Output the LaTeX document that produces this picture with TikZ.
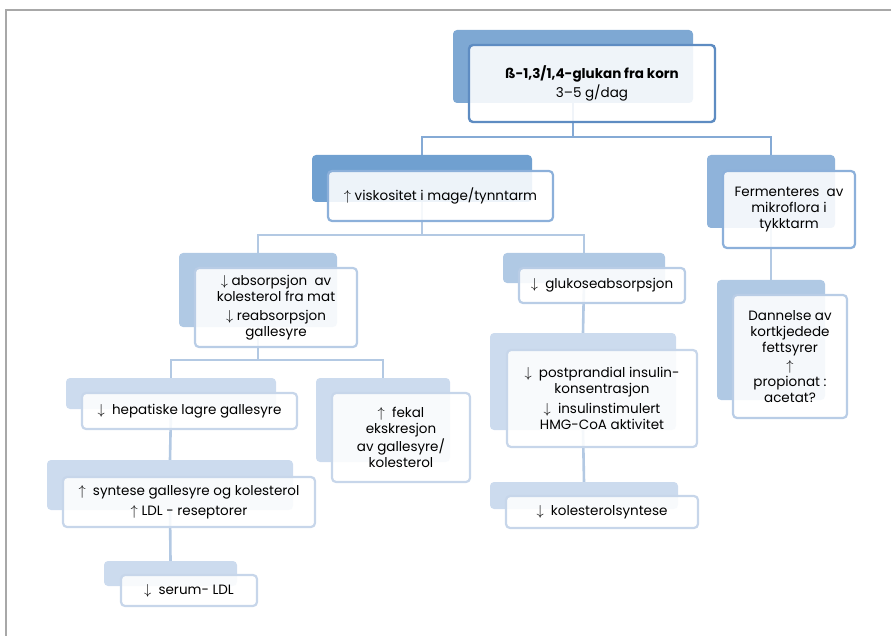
\documentclass[tikz,border=0pt]{standalone}
\usepackage{fontspec}
\setmainfont{Poppins}
\usepackage{tikz}
\usetikzlibrary{positioning}

\definecolor{frameGray}{HTML}{A8A8A8}
\definecolor{topFill}{HTML}{7EA8D3}
\definecolor{topLine}{HTML}{5E8CC2}
\definecolor{midFill}{HTML}{70A0D0}
\definecolor{midFillB}{HTML}{8FB3DA}
\definecolor{midLine}{HTML}{8CB0DA}
\definecolor{lowFill}{HTML}{B0C9E4}
\definecolor{lowLine}{HTML}{B9CDE6}
\definecolor{paleFill}{HTML}{CCDBEE}
\definecolor{paleLine}{HTML}{C7D6EA}
\definecolor{linkTop}{HTML}{85AAD5}
\definecolor{linkLow}{HTML}{B3C9E3}

\newcommand{\upar}{$\uparrow$}
\newcommand{\dnar}{$\downarrow$}

\pgfdeclarelayer{background}
\pgfsetlayers{background,main}

\begin{document}
\begin{tikzpicture}[
    x=1pt, y=-1pt,
    tile/.style={rounded corners=4pt, inner sep=0pt},
    box/.style={draw, rounded corners=4pt, line width=2.2pt, fill=white, fill opacity=0.88, text opacity=1,
        align=center, inner sep=0pt, font=\fontsize{13.5}{16}\selectfont},
    topbox/.style={box, draw=topLine, line width=2.4pt},
    midbox/.style={box, draw=midLine},
    lowbox/.style={box, draw=lowLine},
    palebox/.style={box, draw=paleLine},
    link/.style={line width=2.6pt, draw=linkLow},
    toplink/.style={link, draw=linkTop}
]
    \useasboundingbox (0,0) rectangle (891,636);
    \draw[frameGray, line width=1.2pt] (6,636) -- (6,10) -- (891,10);

    % level 1
    \node[tile, fill=topFill, minimum width=240, minimum height=73] (grainS) at (573,66.5) {};
    \node[topbox, minimum width=246, minimum height=77] (grain) at (592,83.5)
        {{\bfseries ß-1,3/1,4-glukan fra korn}\\[2pt]3–5 g/dag};

    % level 2
    \node[tile, fill=midFill, minimum width=220, minimum height=47] (viscS) at (422,178.5) {};
    \node[midbox, minimum width=225, minimum height=50] (visc) at (440.5,196)
        {\upar\ viskositet i mage/tynntarm};
    \node[tile, fill=midFillB, minimum width=128, minimum height=73] (fermS) at (771,191.5) {};
    \node[midbox, minimum width=132, minimum height=77] (ferm) at (789,209.5)
        {Fermenteres\ \ av\\mikroflora i\\tykktarm};

    % level 3
    \node[tile, fill=lowFill, minimum width=158, minimum height=74] (absS) at (258,290) {};
    \node[lowbox, minimum width=162, minimum height=79] (abs) at (276,307.5)
        {\dnar\ absorpsjon\ \ av\\kolesterol fra mat\\[3pt]\dnar\ reabsorpsjon\\gallesyre};
    \node[tile, fill=lowFill, minimum width=162, minimum height=30] (glucS) at (584,268) {};
    \node[lowbox, minimum width=166, minimum height=35] (gluc) at (602,285.5)
        {\dnar\ \ glukoseabsorpsjon};
    \node[tile, fill=lowFill, minimum width=108, minimum height=120] (scfaS) at (771,340) {};
    \node[lowbox, minimum width=114, minimum height=123] (scfa) at (790,356.5)
        {Dannelse av\\kortkjedede\\fettsyrer\\[2pt]\upar\\propionat :\\acetat?};

    % level 4
    \node[tile, fill=paleFill, minimum width=210, minimum height=31] (hepS) at (171,393.5) {};
    \node[palebox, minimum width=215, minimum height=36] (hep) at (189.5,411)
        {\dnar\ \ hepatiske lagre gallesyre};
    \node[tile, fill=paleFill, minimum width=134, minimum height=84] (fecS) at (383,420) {};
    \node[palebox, minimum width=138, minimum height=89] (fec) at (401,437.5)
        {\upar\ \ fekal\\ekskresjon\\av gallesyre/\\kolesterol};
    \node[tile, fill=paleFill, minimum width=186, minimum height=97] (insS) at (583,381.5) {};
    \node[palebox, minimum width=190, minimum height=97] (ins) at (602,398.5)
        {\dnar\ \ postprandial insulin-\\konsentrasjon\\[4pt]\dnar\ \ insulinstimulert\\HMG-CoA aktivitet};

    % level 5
    \node[tile, fill=paleFill, minimum width=246, minimum height=50] (synS) at (170,485) {};
    \node[palebox, minimum width=252, minimum height=50] (syn) at (189,502)
        {\upar\ \ syntese gallesyre og kolesterol\\[4pt]\upar\ LDL - reseptorer};
    \node[tile, fill=paleFill, minimum width=188, minimum height=27] (cholS) at (584,495.5) {};
    \node[palebox, minimum width=192, minimum height=32] (chol) at (602,512)
        {\dnar\ \ kolesterolsyntese};

    % level 6
    \node[tile, fill=paleFill, minimum width=133, minimum height=25] (ldlS) at (170.5,573.5) {};
    \node[palebox, minimum width=136, minimum height=31] (ldl) at (189,590.5)
        {\dnar\ \ serum- LDL};

    % connectors
    \begin{pgfonlayer}{background}
        \coordinate (hubA) at (573,137);
        \coordinate (hubB) at (422,235);
        \coordinate (hubC) at (258,360);
        \draw[toplink] (grainS.south) -- (hubA);
        \draw[toplink] (viscS.north) |- (hubA) -| (fermS.north);
        \draw[link] (viscS.south) -- (hubB);
        \draw[link] (absS.north) |- (hubB) -| (glucS.north);
        \draw[link] (absS.south) -- (hubC);
        \draw[link] (hepS.north) |- (hubC) -| (fecS.north);
        \draw[link] (fermS.south) -- (scfaS.north);
        \draw[link] (glucS.south) -- (insS.north);
        \draw[link] (insS.south) -- (cholS.north);
        \draw[link] (hepS.south) -- (synS.north);
        \draw[link] (synS.south) -- (ldlS.north);
    \end{pgfonlayer}
\end{tikzpicture}
\end{document}
